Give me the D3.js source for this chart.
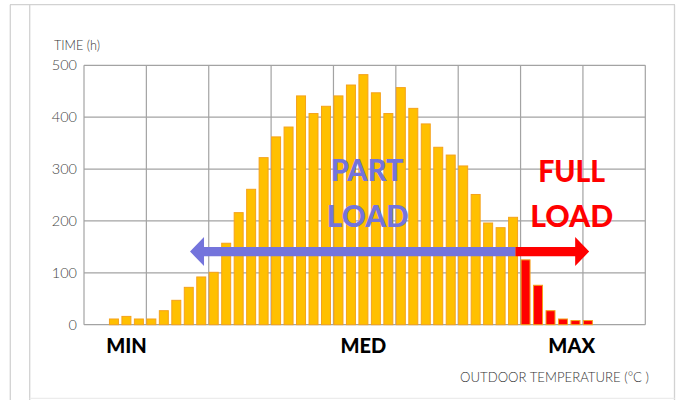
<!DOCTYPE html>
<html><head><meta charset="utf-8">
<script src="https://cdn.jsdelivr.net/npm/d3@7"></script>
<style>
html,body{margin:0;padding:0;background:#fff;}
svg{display:block;}
</style></head>
<body>
<svg id="c" width="678" height="400"></svg>
<script>
// ---- data ----
// temperature bins (slot index along the axis), 45 slots, 9 grid columns of 5
const slotCount = 45;
const partLoadSlots = [2,3,4,5,6,7,8,9,10,11,12,13,14,15,16,17,18,19,20,21,22,23,24,25,26,27,28,29,30,31,32,33,34];
const partLoadHours = [11,16,11,11,27,47,72,92,101,157,216,261,322,362,381,441,407,421,441,462,482,447,407,457,417,387,342,327,306,251,196,187,207];
const fullLoadSlots = [35,36,37,38,39,40];
const fullLoadHours = [125,76,27,11,8,8];
const yTicks = [0,100,200,300,400,500];
const xGridSlots = [0,5,10,15,20,25,30,35,40,45];
const pointLabels = ["MIN","MED","MAX"];
const pointSlots = [3.4,22.4,39.1];
const partArrow = {from:34.6, to:8.5, level:141};
const fullArrow = {from:34.6, to:40.5, level:141};

// ---- drawing ----
const svg = d3.select("#c");
const L=84, R=645.3, T=65.3, B=324.7;
const x = d3.scaleLinear().domain([0,slotCount]).range([L,R]);
const y = d3.scaleLinear().domain([0,500]).range([B,T]);

// frame
const frame = svg.append("g").attr("fill","none").attr("stroke","#d2d2d2").attr("stroke-width",1.3);
frame.append("line").attr("x1",10).attr("x2",675).attr("y1",4.7).attr("y2",4.7);
frame.append("line").attr("x1",10.3).attr("x2",10.3).attr("y1",4.7).attr("y2",400);
frame.append("line").attr("x1",29.7).attr("x2",29.7).attr("y1",4.7).attr("y2",400);
frame.append("line").attr("x1",674.5).attr("x2",674.5).attr("y1",4.7).attr("y2",400);
frame.append("line").attr("x1",29.7).attr("x2",674.5).attr("y1",398.3).attr("y2",398.3).attr("stroke","#ececec");

// grid
const grid = svg.append("g").attr("stroke","#a3a3a3").attr("stroke-width",1.2);
grid.selectAll("line.h").data(yTicks).join("line").attr("class","h")
  .attr("x1",L).attr("x2",R).attr("y1",d=>y(d)).attr("y2",d=>y(d));
grid.selectAll("line.v").data(xGridSlots).join("line").attr("class","v")
  .attr("x1",d=>x(d)).attr("x2",d=>x(d)).attr("y1",T).attr("y2",B);

// y axis labels
const ax = svg.append("g").attr("transform",`translate(${L},0)`)
  .call(d3.axisLeft(y).tickValues(yTicks).tickSize(0).tickPadding(7));
ax.select(".domain").remove();
ax.selectAll("text").attr("font-family","Lato").attr("font-weight",300)
  .attr("font-size",14.5).attr("fill","#444");

svg.append("text").attr("x",54).attr("y",49.5).attr("font-family","Lato").attr("font-weight",300)
  .attr("font-size",13.5).attr("fill","#333").attr("textLength",46).attr("lengthAdjust","spacingAndGlyphs").text("TIME (h)");
svg.append("text").attr("x",460).attr("y",382).attr("font-family","Lato")
  .attr("font-weight",300).attr("font-size",13.5).attr("fill","#333")
  .attr("textLength",189).attr("lengthAdjust","spacingAndGlyphs").text("OUTDOOR TEMPERATURE (°C )");

// bars
const bw = x(0.8)-x(0);
svg.append("g").selectAll("rect").data(partLoadSlots.map((s,i)=>({s,v:partLoadHours[i]}))).join("rect")
  .attr("x",d=>x(d.s)+0.5).attr("width",bw-1).attr("y",d=>y(d.v)).attr("height",d=>B-y(d.v))
  .attr("fill","#FFC000").attr("stroke","#F5A21B").attr("stroke-width",1);
svg.append("g").selectAll("rect").data(fullLoadSlots.map((s,i)=>({s,v:fullLoadHours[i]}))).join("rect")
  .attr("x",d=>x(d.s)+0.5).attr("width",bw-1).attr("y",d=>y(d.v)).attr("height",d=>B-y(d.v))
  .attr("fill","#FF0000").attr("stroke","#F5A21B").attr("stroke-width",1);

// arrows
function arrow(a,color){
  const x0=x(a.from), x1=x(a.to), yy=y(a.level);
  const dir = Math.sign(x1-x0), hl=14, hh=14.5, th=4.6;
  const xb = x1 - dir*hl;
  const p = [[x0,yy-th],[xb,yy-th],[xb,yy-hh],[x1,yy],[xb,yy+hh],[xb,yy+th],[x0,yy+th]];
  svg.append("path").attr("d","M"+p.map(q=>q.join(",")).join("L")+"Z").attr("fill",color);
}
arrow(partArrow,"#7474DC");
arrow(fullArrow,"#FF0000");

// load labels
function label(txt,cx,by,color,w){
  svg.append("text").attr("x",cx).attr("y",by).attr("text-anchor","middle")
    .attr("font-family","Lato").attr("font-weight",900).attr("font-size",30)
    .attr("fill",color).attr("textLength",w).attr("lengthAdjust","spacingAndGlyphs").text(txt);
}
label("PART",x(22.7),180.5,"#7474DC",73);
label("LOAD",x(22.75),227,"#7474DC",82);
label("FULL",x(39.1),181.5,"#FF0000",67);
label("LOAD",x(39.1),227,"#FF0000",83);

// MIN / MED / MAX
svg.append("g").selectAll("text").data(pointLabels).join("text")
  .attr("x",(d,i)=>x(pointSlots[i])).attr("y",352.5).attr("text-anchor","middle")
  .attr("font-family","Lato").attr("font-weight",900).attr("font-size",20).attr("fill","#000")
  .text(d=>d);
</script>
</body></html>
